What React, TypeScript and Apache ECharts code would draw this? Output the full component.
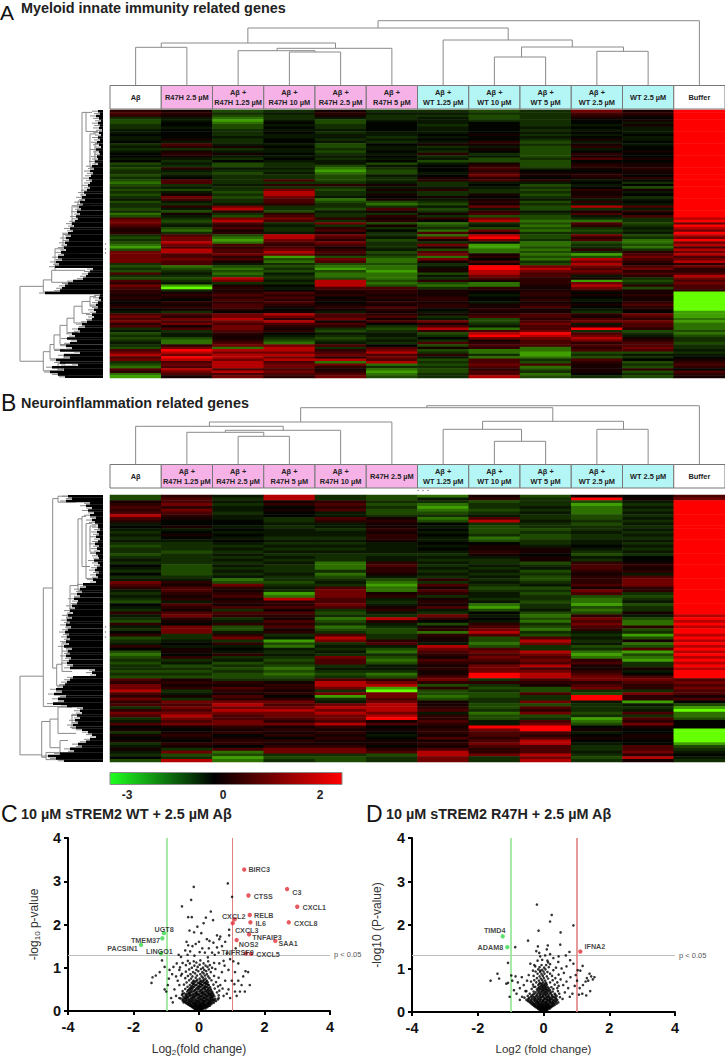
import React, { useEffect, useRef } from "react";
import * as echarts from "echarts";

const FONT = "Liberation Sans, Arial, sans-serif";
const LEVELS: Record<string, number> = { A: -2.4, B: -1.5, C: -1.05, D: -0.7, E: -0.42, F: -0.22, G: -0.04, H: 0.22, I: 0.42, J: 0.7, K: 1.05, L: 1.7, M: 2.4 };

const COLS_A = ["Aβ", "R47H 2.5 µM", "Aβ +\nR47H 1.25 µM", "Aβ +\nR47H 10 µM", "Aβ +\nR47H 2.5 µM", "Aβ +\nR47H 5 µM", "Aβ +\nWT 1.25 µM", "Aβ +\nWT 10 µM", "Aβ +\nWT 5 µM", "Aβ +\nWT 2.5 µM", "WT 2.5 µM", "Buffer"];
const COLS_B = ["Aβ", "Aβ +\nR47H 1.25 µM", "Aβ +\nR47H 2.5 µM", "Aβ +\nR47H 5 µM", "Aβ +\nR47H 10 µM", "R47H 2.5 µM", "Aβ +\nWT 1.25 µM", "Aβ +\nWT 10 µM", "Aβ +\nWT 5 µM", "Aβ +\nWT 2.5 µM", "WT 2.5 µM", "Buffer"];
const FILL_A = ["w", "p", "p", "p", "p", "p", "c", "c", "c", "c", "c", "w"];

const HEAT_A = ["IHDEHEEDEKHM","JIEFIFFEEJIM","IHDEHEEDEIHM","EFCEFEFDEHGM","DFBFDFFEEGHM","DGCGDGFGEGFM","EGDFEGEGEFHM","EFDGEGFGFGFM","FGEFFGFGEFFM","FGEGEFFGFGFM","GGEFFFGHEFGM","FGFFFEFGFGFM","FHEGEFGGEHFM","GFEGFEFIDFGM","EJFFDGHHEHFM","FIHGDFEFDIGM","EEEFEFFHDFGM","FHFFDGEGDGHM","GIHGEFIEDIGM","GHFFFGEFDHGM","FFEGEFFDEJHM","GEGFFGDDDGGM","DFDEFDFHDHHM","EEDEDFGIDIHM","DIFFCEGJEHIM","EFEEBDGIGGHM","EEDFCDFJHHHM","DFEEDFGKHIGM","EGEEDEHIGHIM","DJEJDEIJIFGM","CJEEEFEFFGEM","DEFIIHEGDFGM","EFEEEFFFEGDM","DDEKDHIEDIHM","EFDLEFEEEHFM","DHELEHEHDHGM","EKDKFGHGEIEM","FJEJCHFHFFFM","DFEJDDEIDIGM","EEFIECDHEFFM","EIKEEEFKDLJM","DFLEDJDFDEFM","EDIDFHEIFHIM","CHEIEEHJEJGM","DFDJEIEDDFJM","JEKKIHIKDEEL","KDLJEIGLCCEM","KEJEKDCEDJDK","JFIFEHDFCIEM","IDJEIEEDDEFL","HCHEJGCKCDEK","IEIFHEJHEEFM","EJDLKECLDKDL","DKCLJFKMDIEK","EKBKIDHKEJCM","DLCJKEEFCDCK","CKJIJEKBCEDL","BJIJHEHBDECJ","DLJKIFDCCIEL","KLJLJDJCDEIK","KJKKIEKHCBJL","KJIBDDCIDDKJ","KKJDKCKGCLJK","KJHCJCHJEKIL","EJFEDDEHDLHI","DCDDCCFMKKJK","EDCEBCHMLJKI","DEDDDBHLKKII","JFCFCCDLJJJJ","EEDECCFKJFIL","DDLEDCEJIHEK","JEKFLDIHIBDJ","IFEELCDCIKEK","KBHGLDCCHLIJ","JAIFJJEIHKDJ","IEHGIIHHHIHI","IHIJHIHGIGHA","HIJIIHHFIHIA","IHIJGIIGHGHA","HGJIHHIGIFHA","GIIJGIHFHGIA","HHJIHHIHIHJA","IIJHIJIHJGIA","GHIGHIGIHFHA","FEGHFHFHHEGB","JJKLJIHIJIKB","KIKKJJEJJHJB","JKLIKHFDIJIC","KJKLHJKDJKKB","IKJJJGHEKFJC","JHKIIEJFJIJC","EJKHEDLCJMIC","FEJIDEIJKEDD","DFIGFFDLMJEC","EFHFEFEMLKFD","DDHEDEGKKLHE","ECIDEFEHJKIE","FCJCFEJIJIJD","EIKKJGDJJJJE","DKCLEJHICIKE","JMLLIKDCCJJF","KLKKJLECBDDE","LKLLKJIEBEFF","JMLKIKFCCDEG","KLKLLJDJEJGH","EJLJCLEJDIDI","DKLKKCDKJHEJ","CJLKIEEJCHDI","JLJJHCDIDHIG","IKLKIBDJEHDJ","CJJJJCEJCGEI","BHKIKDELDEDH"];

const HEAT_B = ["DIFLEDCHDHGJ","DJELEDFIEMHK","HJFHIEEDEDFM","IKEIJDCEEBEM","JIFGIEBEFCFM","IKFHJDCDECEM","JJEGFDDEFCFM","LIFGFEEFEDEM","JHFEJHCJEDFM","IGGEIIDLFEEM","FGGFFHGEEDFM","GHFEFHFDEEEM","FFGFEIGDDEFM","EGFFFHFDEFEM","FHGFFIGEDEFM","EGFEEIFCDEEM","FFGFFHFDEFFM","EEFEEFGGEFEM","DEEFFFFHFGFM","EEFEEFGHHFEM","EDEFFFFIHEFM","DEFEEEEHGDEM","EEEFEFFFHFGM","FEFEEFEEHEGM","EEEFCIFEDIHM","GDFECJEFEJIM","FDEECIFEFJHM","EDFEEIEFDIIM","GDEFCHFEEHFM","EEFEDFEFDIJM","FFCEEDIEDIKM","KIDDFCEFEIKM","JHKEEBJEFJKM","IJIFJCHDDHIM","FJHEKCJEEKIM","EIIBKHIFDJEM","FHJCKIEFEDDM","EIHLJFHEECEM","DFIIJEIFDCFM","GJHIKFHCEBDM","FIJJJHJBEDEM","EHEHEIFDFCEM","IJJJDFEGDDHM","FKIIEEKFCIFL","EIEHCLIGDKDM","DHFJDIGFCJCL","IGIIEFDIEKCM","FKDJCEHJDJIL","EKDHDDIKCIDM","GKFIEDCLEFEM","IEIEJEIJDEBL","DEKFLEHDJFDM","EFEBKIHDLEHL","FGIDEJFCKFCM","IFFCFFLDEDDL","GHGFEDKJEEJM","DHFEFCJKLCBL","CGIFEEIJKBDM","DIEEKDHKJCCL","EEFDJCJJKIBM","DFDEJDIIJJEL","EDEDEFHKLHEM","EEDCFFIKJHHL","DDEDEEHKKIFM","EEDCDCHMLJGM","DDDDEDJMLKJM","JHEEJIKEJKKJ","IIIHLKIIIIJK","KHHILLDEHJIJ","KIJIKBIDDKIK","LEIHEADEDEEJ","JFHIKKDDJDKJ","IHJGBKCDEMIH","KEIIEJDEEMIJ","IKKKFKHEKFBG","JJLJKLHDDEFD","EKKKLLIDJEEB","IJLLKLJEIEFA","KKKKLKFCKDJC","JLJKKLIDDEEC","EKJJKMIDEBJD","FJKIJHJFJCIG","JKKKLJIFKDKG","GHIHIGHMMGHG","HGHIHHIKMHGA","EHIHIGIJJFGA","HIGIHFHJIGHA","GHHGIGJIJHHA","HGIIHHHJLGGA","EIIHHHIKLFGB","FHGIIGHJJEJD","HEJKKIJIJEJE","FKCKKJLIJFKF","EDDEEDLKLEIG","GEBDDEKEKDLF","DLCEDEKELEHE"];

// top dendrograms: [left position, left base, right position, right base, merge height]
const TREE_A = [[4.73, 28, 11, 85, 20.7], [2.19, 43, 7.27, 40, 28], [0.5, 47.3, 3.9, 48.3, 43], [0, 85, 1, 85, 47.3], [2.76, 50.7, 5, 85, 48.3], [2, 85, 3.5, 52, 50.7], [3, 85, 4, 85, 52], [6, 85, 8.52, 47, 40], [7.53, 57, 9.52, 51.3, 47], [7, 85, 8, 85, 57], [9, 85, 10, 85, 51.3]];
const TREE_B = [[5.68, 407.7, 11, 464, 405.7], [3.22, 422, 8.14, 421.3, 407.7], [1.44, 426.3, 5, 464, 422], [0, 464, 2.88, 430.3, 426.3], [1.75, 432.3, 4, 464, 430.3], [1, 464, 2.5, 436.3, 432.3], [2, 464, 3, 464, 436.3], [6.77, 429.3, 9.52, 429.3, 421.3], [6, 464, 7.53, 441.3, 429.3], [7, 464, 8, 464, 441.3], [9, 464, 10, 464, 429.3]];

// gene dendrograms: leaf start per row, and merges [depth, row top, row bottom, child depth top, child depth bottom]
const LEAF_A = [78,80,76,79,81,78,80,79,82,79,81,78,80,77,79,81,76,79,80,77,78,75,78,72,74,70,73,71,69,72,70,68,70,67,64,66,62,65,60,63,59,61,57,60,56,58,55,52,54,50,53,48,51,46,49,45,47,44,46,41,44,38,42,36,39,35,73,70,68,66,63,53,48,45,42,40,25,80,79,81,78,76,78,74,76,72,74,72,67,62,65,58,60,52,55,47,57,50,46,52,40,60,44,50,36,40,58,32,44,30,38,45];
const LEAF_B = [48,52,46,70,66,72,68,74,70,76,72,75,78,78,80,77,79,76,80,78,75,79,77,80,76,78,79,74,78,80,77,75,79,76,78,73,76,63,66,60,62,57,60,54,58,57,52,55,50,53,48,52,47,50,46,51,48,45,49,47,50,46,49,44,52,48,50,46,51,49,47,53,50,75,72,76,53,50,47,45,43,36,42,34,46,38,44,33,47,63,60,62,57,60,55,58,53,56,62,68,72,76,70,66,58,62,50,54,40,28,36,44];
const MERGE_A = [[0,73.7,105,23.3,23.3],[23.3,71,76,31.7,60],[31.7,67,72,35,52],[35,58,67,43,65],[43,52,60,52,60],[52,40,54,58,64],[58,38,48,62,68],[62,1,40,66,70],[66,1,9,72,78],[70,10,24,76,75],[75,14,30,78,76],[23.3,101,109,30,42],[30,98,104,34,42],[34,94,100,40,45],[40,90,98,47,50],[47,87,93,54,58],[54,82,89,62,64],[62,80,85,70,70],[70,78,82,76,76],[42,104,110,50,52],[44,102,107,54,56],[38,106,111,46,48]];
const MERGE_B = [[0,76,109,23.3,21.7],[23.3,39,88.7,32.7,63],[32.7,1.5,72.6,38,36.7],[36.7,71,80,42,48],[42,62,74,47,52],[47,50,66,50,54],[50,38,54,58,56],[58,10,40,62,66],[62,9,30,66,70],[66,12,35,72,76],[70,13,24,76,78],[38,0.5,3,52,56],[21.7,95,110,30,26],[30,94,106,38,40],[38,89,100,52,56],[40,103,109,48,50],[26,108,111,40,45],[52,92,98,60,62]];

const VOLCANO_C = [[.88,2.95],[-.16,2.87],[1.01,2.64],[-.24,2.57],[-.52,2.42],[.36,2.3],[-.33,2.17],[-.22,2.17],[.21,2.16],[.14,2.03],[.43,2.1],[-.29,1.86],[-.05,1.95],[-.15,1.82],[.07,1.8],[.55,1.75],[.65,1.72],[.62,1.66],[.92,1.75],[.92,1.88],[.24,1.66],[.32,1.62],[.44,1.58],[-.38,1.6],[-.33,1.52],[-.42,1.4],[-.2,1.5],[-.1,1.55],[0,1.6],[.1,1.45],[.18,1.35],[.3,1.45],[.4,1.35],[.55,1.47],[.7,1.5],[.8,1.6],[.6,1.35],[.48,1.3],[.85,1.33],[1.12,1.45],[-.62,1.3],[-.55,1.25],[-.35,1.3],[-.27,1.38],[-.14,1.28],[.02,1.36],[.27,1.24],
[-1.45,.65],[-1.42,.78],[-1.32,.82],[-1.2,.9],[-1.13,1.17],[-1.05,1.02],[-.95,.6],[-1.05,.5],[-1,.45],[-.85,.3],[-.8,.2],[-.9,.95],[-.82,.85],[-.7,.8],[-.65,.7],[-.6,.6],[-.75,.5],[-.7,.35],[-.6,.3],[-.5,.4],[-.78,1.02],[-.68,1.1],[-.6,.95],[-.55,.82],[-.92,.75],
[1.05,1.15],[.95,1.2],[1.2,1.1],[1.35,.8],[1.2,.7],[1.3,.6],[1.4,.45],[1.55,.6],[1.5,.9],[1.1,.9],[.9,.95],[1,.7],[.8,.7],[.7,.9],[.65,.6],[.9,.5],[1.1,.45],[.85,.4],[.75,.35],[.95,.3],[.6,.3],[1.25,.45],[1.15,.35],[.78,1.05],[.62,1.1],[.72,.52],[1.08,.62],[1.42,.92],
[-.05,.02],[.03,.01],[.08,.03],[-.1,.04],[-.12,.05],[-.02,.06],[.06,.05],[.12,.04],[-.07,.03],[-.18,.08],[-.1,.09],[-.04,.07],[.02,.08],[.09,.09],[.16,.07],[.2,.06],[-.24,.11],[-.16,.1],[-.08,.12],[0,.1],[.05,.11],[.13,.12],[.22,.1],[.26,.09],[-.3,.14],[-.22,.13],[-.13,.15],[-.05,.13],[.03,.15],[.1,.14],[.18,.13],[.27,.15],[.33,.12],[-.36,.17],[-.27,.16],[-.18,.18],[-.09,.17],[-.01,.18],[.07,.16],[.15,.18],[.24,.17],[.32,.18],[.38,.16],[-.43,.21],[-.33,.2],[-.24,.22],[-.15,.2],[-.06,.22],[.03,.21],[.12,.2],[.2,.22],[.29,.2],[.37,.21],[.45,.19],[-.5,.24],[-.4,.25],[-.3,.24],[-.2,.26],[-.1,.24],[0,.26],[.1,.25],[.17,.24],[.26,.26],[.35,.24],[.43,.25],[.52,.23],[-.56,.29],[-.45,.28],[-.35,.3],[-.25,.28],[-.14,.3],[-.04,.29],[.06,.28],[.15,.3],[.23,.29],[.33,.28],[.41,.3],[.5,.28],[.58,.27],[-.48,.33],[-.38,.32],[-.28,.34],[-.18,.32],[-.08,.34],[.02,.33],[.12,.32],[.2,.34],[.3,.33],[.38,.32],[.47,.34],[.6,.36],[-.52,.37],[-.41,.36],[-.3,.38],[-.21,.36],[-.11,.38],[-.02,.37],[.08,.36],[.18,.38],[.27,.37],[.36,.36],[.44,.38],[-.45,.41],[-.33,.4],[-.24,.43],[-.13,.41],[-.04,.4],[.06,.42],[.15,.41],[.24,.43],[.33,.4],[.42,.41],[.55,.43],[-.5,.46],[-.36,.45],[-.26,.47],[-.16,.46],[-.06,.45],[.04,.47],[.13,.45],[.22,.47],[.31,.46],[.4,.45],[.62,.47],[-.42,.51],[-.3,.5],[-.2,.52],[-.1,.5],[0,.52],[.09,.5],[.18,.52],[.27,.51],[.36,.5],[.48,.52],[-.35,.56],[-.24,.55],[-.14,.57],[-.03,.55],[.07,.57],[.16,.55],[.25,.56],[.34,.55],[.58,.57],[-.46,.61],[-.28,.6],[-.18,.62],[-.07,.6],[.03,.62],[.12,.6],[.21,.62],[.3,.6],[.44,.61],[-.38,.66],[-.22,.65],[-.12,.67],[0,.65],[.09,.67],[.18,.65],[.27,.66],[.52,.67],[-.3,.71],[-.16,.7],[-.05,.72],[.06,.7],[.15,.72],[.24,.7],[.38,.71],[-.42,.76],[-.24,.75],[-.1,.77],[.02,.75],[.12,.77],[.2,.75],[.32,.76],[.6,.77],[-.34,.81],[-.2,.8],[-.06,.82],[.08,.8],[.18,.82],[.28,.8],[.46,.81],[-.52,.86],[-.26,.85],[-.12,.87],[.04,.85],[.14,.87],[.24,.85],[-.4,.91],[-.18,.9],[-.02,.92],[.1,.9],[.22,.92],[.36,.9],[-.3,.96],[-.08,.95],[.06,.97],[.16,.95],[.3,.96],[.5,.97],[-.58,1.01],[-.22,1],[-.04,1.02],[.12,1],[.26,1.02],[.4,1],[-.4,1.06],[-.14,1.05],[.02,1.07],[.2,1.05],[.33,1.06],[-.5,1.11],[-.28,1.1],[-.08,1.12],[.14,1.1],[.46,1.11],[-.34,1.16],[-.16,1.15],[.04,1.17],[.28,1.15],[.75,1.16]];
const DENSE_C = [[-.08,.03],[0,.04],[.05,.03],[-.15,.06],[.09,.06],[-.05,.05],[.02,.05],[-.21,.09],[-.14,.08],[-.07,.09],[-.01,.08],[.05,.09],[.12,.08],[.18,.09],[-.27,.12],[-.2,.11],[-.12,.12],[-.04,.11],[.02,.12],[.09,.11],[.17,.12],[.24,.11],[.3,.12],[-.33,.15],[-.26,.14],[-.17,.15],[-.09,.14],[-.01,.15],[.06,.14],[.14,.15],[.22,.14],[.3,.15],[-.4,.18],[-.31,.17],[-.22,.18],[-.13,.17],[-.05,.18],[.03,.17],[.11,.18],[.19,.17],[.28,.18],[.35,.17],[-.47,.2],[-.38,.22],[-.28,.2],[-.19,.22],[-.1,.2],[-.01,.22],[.08,.2],[.16,.22],[.25,.2],[.33,.22],[.41,.2],[-.45,.23],[-.35,.25],[-.25,.23],[-.15,.25],[-.05,.23],[.05,.25],[.14,.23],[.22,.25],[.3,.23],[.39,.25],[.47,.23],[-.5,.27],[-.4,.29],[-.3,.27],[-.2,.29],[-.09,.27],[.01,.29],[.11,.27],[.19,.29],[.28,.27],[.37,.29],[.46,.27],[-.43,.31],[-.33,.33],[-.23,.31],[-.13,.33],[-.03,.31],[.07,.33],[.16,.31],[.25,.33],[.34,.31],[.42,.33],[-.36,.35],[-.26,.37],[-.16,.35],[-.06,.37],[.03,.35],[.13,.37],[.23,.35],[.32,.37],[.4,.35],[-.39,.39],[-.28,.41],[-.18,.39],[-.08,.41],[.01,.39],[.1,.41],[.2,.39],[.29,.41],[.38,.39],[-.3,.43],[-.2,.45],[-.09,.43],[.01,.45],[.1,.43],[.19,.45],[.28,.43],[.37,.43],[-.33,.48],[-.23,.5],[-.13,.48],[-.03,.5],[.07,.48],[.17,.5],[.26,.48],[.35,.48],[-.27,.53],[-.17,.55],[-.07,.53],[.03,.55],[.12,.53],[.21,.55],[.3,.53],[-.21,.58],[-.1,.6],[0,.58],[.09,.6],[.19,.58],[.28,.6],[-.15,.63],[-.04,.65],[.06,.63],[.15,.65],[.24,.63],[-.18,.68],[-.08,.7],[.03,.68],[.13,.7],[.22,.68]];
const GENES_C_UP = [[1.38,3.27,"BIRC3"],[2.69,2.82,"C3"],[1.51,2.67,"CTSS"],[3.0,2.41,"CXCL1"],[1.55,2.22,"RELB"],[1.09,2.12,"CXCL2"],[1.57,2.05,"IL6"],[2.74,2.05,"CXCL8"],[1.03,2.03,"CXCL3"],[1.53,1.77,"TNFAIP3"],[1.15,1.64,"NOS2"],[2.33,1.62,"SAA1"],[1.43,1.33,"TNFRSF9"],[1.59,1.32,"CXCL5"]];
const GENES_C_DOWN = [[-1.07,1.8,"UGT8"],[-1.12,1.68,"TMEM37"],[-1.77,1.53,"PACSIN1"],[-1.16,1.33,"LINGO1"]];

const VOLCANO_D = [[-.2,2.47],[.25,2.23],[.2,2.08],[.91,1.99],[-.15,1.87],[.52,1.83],[-.47,1.64],[.51,1.55],[-.86,1.49],[-.17,1.51],[.13,1.53],[-.22,1.4],[.1,1.44],[.2,1.33],[.79,1.38],[.68,1.3],[.46,1.28],[.05,1.3],[-.13,1.36],[-1.08,1.13],[-.4,1.11],[.81,1.19],[.91,1.11],[1.19,1.06],[1.04,.96],[1.12,.95],[-1.4,.88],[-1.35,.77],[-1.61,.72],[-1.13,.65],[-.98,.84],[-1.03,.35],[-1.08,.67],[-.95,.72],
[1.32,.78],[1.36,.72],[1.4,.88],[1.45,.82],[1.5,.75],[1.55,.8],[1.42,.48],[1.2,.62],[1.1,.55],[1.28,.7],[1.18,.42],[1.3,.38],[1.02,.72],[.95,.6],[.98,.85],[.88,.42],[.8,.35],[1.08,.4],[.75,.55],[.7,.7],[.82,.8],[.62,.9],[.55,1],[.7,1.05],[.45,1.15],[.38,1.02],[.6,.62],[.52,.75],[.65,.45],[.58,.3],[-.1,1.28],[.12,1.18],[.2,1.1],[.3,1.24],
[-.85,.82],[-.78,.68],[-.72,.55],[-.66,.8],[-.6,.62],[-.9,.5],[-.82,.42],[-.55,.48],[-.65,.35],[-.72,.28],[-.5,.72],[-.45,.85],[-.38,.7],[-.32,.95],[-.3,.58],[-.25,1.05],[-.18,1.18],[-.1,.95],
[-.04,.02],[.03,.01],[.07,.03],[-.08,.03],[-.1,.05],[-.02,.06],[.05,.05],[.11,.04],[-.16,.07],[-.08,.08],[0,.08],[.08,.08],[.15,.07],[-.2,.1],[-.13,.1],[-.05,.11],[.03,.1],[.1,.11],[.18,.1],[-.26,.13],[-.18,.13],[-.1,.14],[-.02,.13],[.06,.14],[.14,.13],[.22,.12],[-.32,.16],[-.24,.17],[-.15,.16],[-.07,.17],[.01,.16],[.09,.17],[.17,.16],[.26,.15],[.34,.16],[-.38,.2],[-.29,.19],[-.2,.21],[-.12,.19],[-.03,.2],[.05,.21],[.13,.19],[.21,.21],[.3,.2],[.4,.19],[-.45,.24],[-.35,.23],[-.25,.25],[-.16,.23],[-.08,.24],[0,.25],[.08,.23],[.17,.25],[.26,.23],[.35,.24],[.45,.22],[-.52,.28],[-.4,.27],[-.3,.29],[-.2,.28],[-.11,.29],[-.02,.27],[.06,.29],[.14,.28],[.23,.29],[.32,.27],[.42,.28],[-.58,.33],[-.44,.32],[-.33,.34],[-.24,.32],[-.14,.33],[-.05,.34],[.04,.32],[.12,.34],[.2,.32],[.3,.34],[.38,.32],[.5,.34],[-.48,.37],[-.36,.38],[-.22,.37],[-.12,.38],[-.03,.37],[.06,.38],[.15,.37],[.27,.38],[.4,.37],[-.42,.42],[-.28,.42],[-.16,.43],[-.07,.42],[.02,.43],[.1,.42],[.2,.43],[.34,.42],[.48,.42],[-.52,.48],[-.3,.47],[-.18,.48],[-.08,.47],[0,.48],[.08,.47],[.16,.48],[.28,.47],[.44,.48],[-.36,.53],[-.2,.52],[-.1,.53],[-.02,.52],[.06,.53],[.14,.52],[.3,.53],[.42,.55],[-.25,.58],[-.13,.57],[-.04,.58],[.04,.57],[.12,.58],[.24,.57],[.46,.6],[-.32,.63],[-.16,.62],[-.06,.63],[.02,.62],[.1,.63],[.34,.63],[-.22,.68],[-.1,.67],[-.01,.68],[.08,.67],[.2,.68],[.42,.68],[-.28,.73],[-.14,.72],[-.04,.73],[.05,.72],[.28,.73],[-.2,.78],[-.08,.77],[.01,.78],[.14,.77],[.36,.78],[-.3,.83],[-.12,.82],[-.02,.83],[.1,.82],[.26,.83],[-.18,.88],[-.06,.87],[.03,.88],[.2,.88],[.46,.86],[-.24,.93],[-.1,.92],[0,.93],[.12,.92],[-.16,.98],[-.04,.97],[.06,.98],[.3,.96],[-.12,1.03],[.02,1.02],[.16,1.03],[-.28,1.08],[-.06,1.08],[.08,1.08],[.14,1.14],[-.04,1.2]];
const DENSE_D = [[-.06,.04],[.01,.03],[.06,.04],[-.13,.06],[-.04,.07],[.03,.06],[.1,.06],[-.17,.09],[-.1,.09],[-.02,.09],[.05,.09],[.12,.09],[.19,.08],[-.23,.11],[-.15,.12],[-.07,.12],[0,.11],[.08,.12],[.16,.12],[.24,.11],[-.28,.14],[-.2,.15],[-.12,.15],[-.04,.14],[.04,.15],[.12,.15],[.2,.14],[.29,.14],[-.35,.18],[-.26,.18],[-.17,.18],[-.09,.18],[-.01,.18],[.07,.18],[.15,.18],[.24,.18],[.32,.18],[-.41,.22],[-.31,.21],[-.22,.22],[-.14,.22],[-.05,.22],[.03,.22],[.11,.22],[.19,.22],[.28,.21],[.37,.22],[-.48,.26],[-.37,.26],[-.28,.26],[-.18,.26],[-.1,.26],[-.01,.26],[.1,.26],[.2,.26],[.29,.26],[.39,.26],[-.46,.3],[-.36,.3],[-.26,.3],[-.16,.3],[-.07,.3],[.02,.3],[.1,.3],[.18,.3],[.27,.3],[.36,.3],[-.39,.35],[-.28,.35],[-.18,.35],[-.09,.35],[0,.35],[.09,.35],[.17,.35],[.25,.35],[.34,.35],[-.32,.4],[-.2,.4],[-.1,.4],[-.01,.4],[.06,.4],[.15,.4],[.24,.4],[.36,.4],[-.24,.45],[-.12,.45],[-.03,.45],[.05,.45],[.12,.45],[.22,.45],[-.14,.5],[-.05,.5],[.03,.5],[.1,.5],[.2,.5],[-.16,.55],[-.07,.55],[0,.55],[.08,.55],[.16,.55],[-.09,.6],[-.01,.6],[.06,.6],[-.13,.65],[-.04,.65],[.05,.65]];
const GENES_D_UP = [[1.12,1.39,"IFNA2"]];
const GENES_D_DOWN = [[-1.24,1.74,"TIMD4"],[-1.1,1.49,"ADAM8"]];

// gene name placement as pixel offsets from each dot
const LABEL_OFFSET: Record<string, [number, number, string]> = {
  BIRC3: [-3, 0, "left"], C3: [-2, 3, "left"], CTSS: [-2, 1, "left"], CXCL1: [-2, 1, "left"], RELB: [-3, 1, "left"], CXCL2: [18, -3, "right"], IL6: [-2, 1, "left"], CXCL8: [-2, 1, "left"], CXCL3: [-5, 7, "left"], TNFAIP3: [-4, 3, "left"], NOS2: [-5, 4, "left"], SAA1: [-4, 3, "left"], TNFRSF9: [15, -1, "right"], CXCL5: [-2, 1, "left"],
  UGT8: [17, -4, "right"], TMEM37: [5, 2, "right"], PACSIN1: [4, 4, "right"], LINGO1: [19, -2, "right"], IFNA2: [-3, -5, "left"], TIMD4: [10, -6, "right"], ADAM8: [3, 0, "right"],
};

const HEADER_FILL: Record<string, string> = { w: "#ffffff", p: "#f6b2e6", c: "#b4f6f6" };
const HEAT_X0 = 110, HEAT_W = 615;
const grids = [
  { left: HEAT_X0, top: 110, width: HEAT_W, height: 268 },
  { left: HEAT_X0, top: 495, width: HEAT_W, height: 267 },
  { left: HEAT_X0 + HEAT_W / 24, top: 0, width: HEAT_W * 11 / 12, height: 85 },
  { left: HEAT_X0 + HEAT_W / 24, top: 390, width: HEAT_W * 11 / 12, height: 74 },
  { left: 20, top: 110, width: 83, height: 268 },
  { left: 20, top: 495, width: 83, height: 267 },
  { left: 68, top: 838, width: 262, height: 174 },
  { left: 412, top: 838, width: 263, height: 174 },
];

function cells(rows: string[]) {
  const out: number[][] = [];
  rows.forEach((row, r) => row.split("").forEach((ch, c) => out.push([c, r, LEVELS[ch]])));
  return out;
}
function treeLines(t: number[][]) {
  return t.map(([a, ab, b, bb, h]) => ({ coords: [[a, ab], [a, h], [b, h], [b, bb]] }));
}
function mergeLines(m: number[][]) {
  return m.map(([x, t, b, ct, cb]) => ({ coords: [[ct, t], [x, t], [x, b], [cb, b]] }));
}
function leafLines(leaf: number[], from: number) {
  return leaf.map((s, r) => ({ coords: [[Math.max(0, s + from), r + 0.5], [83, r + 0.5]] }));
}
function geneSeries(genes: any[], color: string, xi: number, yi: number) {
  return {
    type: "scatter", xAxisIndex: xi, yAxisIndex: yi, symbol: "circle", symbolSize: 4.4, z: 5,
    itemStyle: { color },
    data: genes.map(([x, y, name]) => {
      const [dx, dy, align] = LABEL_OFFSET[name];
      return {
        name, value: [x, y],
        label: { show: true, formatter: name, position: align === "left" ? "right" : "left", offset: [dx, dy], fontFamily: FONT, fontWeight: "bold", fontSize: 7.2, color: "#111" },
      };
    }),
  };
}
function volcanoSeries(points: number[][], xi: number, yi: number, redW: number) {
  return {
    type: "scatter", xAxisIndex: xi, yAxisIndex: yi, symbol: "circle", symbolSize: 2.6, z: 3,
    itemStyle: { color: "#000" }, data: points,
    markLine: {
      silent: true, symbol: "none", animation: false, z: 2,
      data: [
        { yAxis: 1.3, lineStyle: { color: "#bdbdbd", width: 1, type: "solid" }, label: { show: true, position: "end", formatter: "p < 0.05", fontFamily: FONT, fontSize: 7.5, color: "#555", distance: 4 } },
        { xAxis: -1, lineStyle: { color: "#8fe58f", width: 1.6, type: "solid" }, label: { show: false } },
        { xAxis: 1, lineStyle: { color: "#e08080", width: redW, type: "solid" }, label: { show: false } },
      ],
    },
  };
}
function hiddenValue(gridIndex: number, min: number, max: number, inverse = false) {
  return { type: "value", gridIndex, min, max, inverse, show: false, splitLine: { show: false } };
}
function volcanoX(gridIndex: number, name: string, size: number) {
  return {
    type: "value", gridIndex, min: -4, max: 4, interval: 2, name, nameLocation: "center", nameGap: 31,
    nameTextStyle: { fontFamily: FONT, fontSize: size, color: "#333", rich: { sub: { fontFamily: FONT, fontSize: size - 4, color: "#333", verticalAlign: "bottom", padding: [6, 0, 0, 0] } } },
    axisLine: { show: true, onZero: false, lineStyle: { color: "#000", width: 2 } },
    axisTick: { show: true, length: 4, lineStyle: { color: "#000", width: 2 } },
    axisLabel: { fontFamily: FONT, fontWeight: "bold", fontSize: 14.5, color: "#111", margin: 8 },
    splitLine: { show: false },
  };
}
function volcanoY(gridIndex: number, name: string, gap: number) {
  return {
    type: "value", gridIndex, min: 0, max: 4, interval: 1, name, nameLocation: "center", nameGap: gap, nameRotate: 90,
    nameTextStyle: { fontFamily: FONT, fontSize: 12, color: "#333", rich: { sub: { fontFamily: FONT, fontSize: 8, color: "#333", verticalAlign: "bottom", padding: [6, 0, 0, 0] } } },
    axisLine: { show: true, onZero: false, lineStyle: { color: "#000", width: 2 } },
    axisTick: { show: true, length: 4, lineStyle: { color: "#000", width: 2 } },
    axisLabel: { fontFamily: FONT, fontWeight: "bold", fontSize: 14.5, color: "#111", margin: 7 },
    splitLine: { show: false },
  };
}
function headerGraphics(cols: string[], fills: string[], top: number, height: number) {
  const w = HEAT_W / 12;
  const out: any[] = [];
  cols.forEach((label, i) => {
    out.push({ type: "rect", shape: { x: HEAT_X0 + i * w, y: top, width: w, height }, style: { fill: HEADER_FILL[fills[i]], stroke: "#777", lineWidth: 1 } });
    out.push({ type: "text", x: HEAT_X0 + (i + 0.5) * w, y: top + height / 2, style: { text: label, fill: "#222", font: `bold 7.4px ${FONT}`, textAlign: "center", textVerticalAlign: "middle", lineHeight: 10 } });
  });
  return out;
}
function heading(letter: string, lx: number, ly: number, text: string, tx: number, ty: number, letterSize = 23) {
  return [
    { type: "text", x: lx, y: ly, style: { text: letter, fill: "#111", font: `${letterSize}px ${FONT}`, textVerticalAlign: "middle" } },
    { type: "text", x: tx, y: ty, style: { text, fill: "#222", font: `bold 14.4px ${FONT}`, textVerticalAlign: "middle" } },
  ];
}
function dots(points: number[][]) {
  return points.map(([x, y]) => ({ type: "circle", shape: { cx: x, cy: y, r: 0.7 }, style: { fill: "#777" } }));
}

export default function App() {
  const ref = useRef<HTMLDivElement>(null);
  useEffect(() => {
    document.body.style.margin = "0";
    const chart = echarts.init(ref.current!, undefined, { renderer: "svg" });
    const catAxes = (g: number, rows: string[]) => ({
      x: { type: "category", gridIndex: g, data: COLS_A.map((_, i) => i), show: false },
      y: { type: "category", gridIndex: g, data: rows.map((_, i) => i), inverse: true, show: false },
    });
    const a = catAxes(0, HEAT_A), b = catAxes(1, HEAT_B);
    const thin = { color: "#8a8a8a", width: 1, opacity: 1 };
    const thick = { color: "#000", width: 2.6, opacity: 1 };
    chart.setOption({
      animation: false,
      backgroundColor: "#fff",
      textStyle: { fontFamily: FONT },
      grid: grids.map((g) => ({ ...g, containLabel: false })),
      xAxis: [
        a.x, b.x, hiddenValue(2, 0, 11), hiddenValue(3, 0, 11), hiddenValue(4, 0, 83), hiddenValue(5, 0, 83),
        volcanoX(6, "Log{sub|2}(fold change)", 12), volcanoX(7, "Log2 (fold change)", 11.5),
      ],
      yAxis: [
        a.y, b.y, hiddenValue(2, 0, 85, true), hiddenValue(3, 390, 464, true), hiddenValue(4, 0, 112, true), hiddenValue(5, 0, 112, true),
        volcanoY(6, "-log{sub|10} p-value", 27), volcanoY(7, "-log10 (P-value)", 29),
      ],
      visualMap: { show: false, seriesIndex: [0, 1], min: -2.4, max: 2.4, inRange: { color: ["#66ff00", "#000000", "#ff0000"] } },
      series: [
        { type: "heatmap", xAxisIndex: 0, yAxisIndex: 0, data: cells(HEAT_A), itemStyle: { borderWidth: 0 }, emphasis: { disabled: true } },
        { type: "heatmap", xAxisIndex: 1, yAxisIndex: 1, data: cells(HEAT_B), itemStyle: { borderWidth: 0 }, emphasis: { disabled: true } },
        { type: "lines", coordinateSystem: "cartesian2d", polyline: true, xAxisIndex: 2, yAxisIndex: 2, lineStyle: thin, data: treeLines(TREE_A) },
        { type: "lines", coordinateSystem: "cartesian2d", polyline: true, xAxisIndex: 3, yAxisIndex: 3, lineStyle: thin, data: treeLines(TREE_B) },
        { type: "lines", coordinateSystem: "cartesian2d", polyline: true, xAxisIndex: 4, yAxisIndex: 4, lineStyle: thin, data: mergeLines(MERGE_A).concat(leafLines(LEAF_A, -6)) },
        { type: "lines", coordinateSystem: "cartesian2d", polyline: true, xAxisIndex: 4, yAxisIndex: 4, lineStyle: thick, data: leafLines(LEAF_A, 0) },
        { type: "lines", coordinateSystem: "cartesian2d", polyline: true, xAxisIndex: 5, yAxisIndex: 5, lineStyle: thin, data: mergeLines(MERGE_B).concat(leafLines(LEAF_B, -6)) },
        { type: "lines", coordinateSystem: "cartesian2d", polyline: true, xAxisIndex: 5, yAxisIndex: 5, lineStyle: thick, data: leafLines(LEAF_B, 0) },
        volcanoSeries(VOLCANO_C.concat(DENSE_C), 6, 6, 1),
        geneSeries(GENES_C_UP, "#e03038", 6, 6),
        geneSeries(GENES_C_DOWN, "#35d94a", 6, 6),
        volcanoSeries(VOLCANO_D.concat(DENSE_D), 7, 7, 1.6),
        geneSeries(GENES_D_UP, "#e03038", 7, 7),
        geneSeries(GENES_D_DOWN, "#35d94a", 7, 7),
      ],
      graphic: [
        ...heading("A", 0, 12, "Myeloid innate immunity related genes", 21, 8, 21),
        ...heading("B", 1, 403, "Neuroinflammation related genes", 21, 403),
        ...heading("C", 1, 814, "10 µM sTREM2 WT + 2.5 µM Aβ", 21, 814),
        ...heading("D", 366, 814, "10 µM sTREM2 R47H + 2.5 µM Aβ", 386, 814),
        ...headerGraphics(COLS_A, FILL_A, 85.5, 23.5),
        ...headerGraphics(COLS_B, FILL_A, 464.5, 23.5),
        ...dots([[105.5, 244], [105.5, 249], [105.5, 253], [105.5, 627], [105.5, 632], [105.5, 637], [418, 490.5], [423, 490.5], [428, 490.5]]),
        {
          type: "rect", shape: { x: 110, y: 772.5, width: 232, height: 12 },
          style: {
            stroke: "#8a8a8a", lineWidth: 1,
            fill: new echarts.graphic.LinearGradient(0, 0, 1, 0, [{ offset: 0, color: "#1eff1e" }, { offset: 0.45, color: "#000000" }, { offset: 1, color: "#ff0000" }]),
          },
        },
        { type: "text", x: 127, y: 795, style: { text: "-3", fill: "#222", font: `bold 12px ${FONT}`, textAlign: "center", textVerticalAlign: "middle" } },
        { type: "text", x: 223, y: 795, style: { text: "0", fill: "#222", font: `bold 12px ${FONT}`, textAlign: "center", textVerticalAlign: "middle" } },
        { type: "text", x: 320, y: 795, style: { text: "2", fill: "#222", font: `bold 12px ${FONT}`, textAlign: "center", textVerticalAlign: "middle" } },
      ],
    });
    return () => chart.dispose();
  }, []);
  return <div ref={ref} style={{ position: "absolute", left: 0, top: 0, width: 725, height: 1057 }} />;
}
